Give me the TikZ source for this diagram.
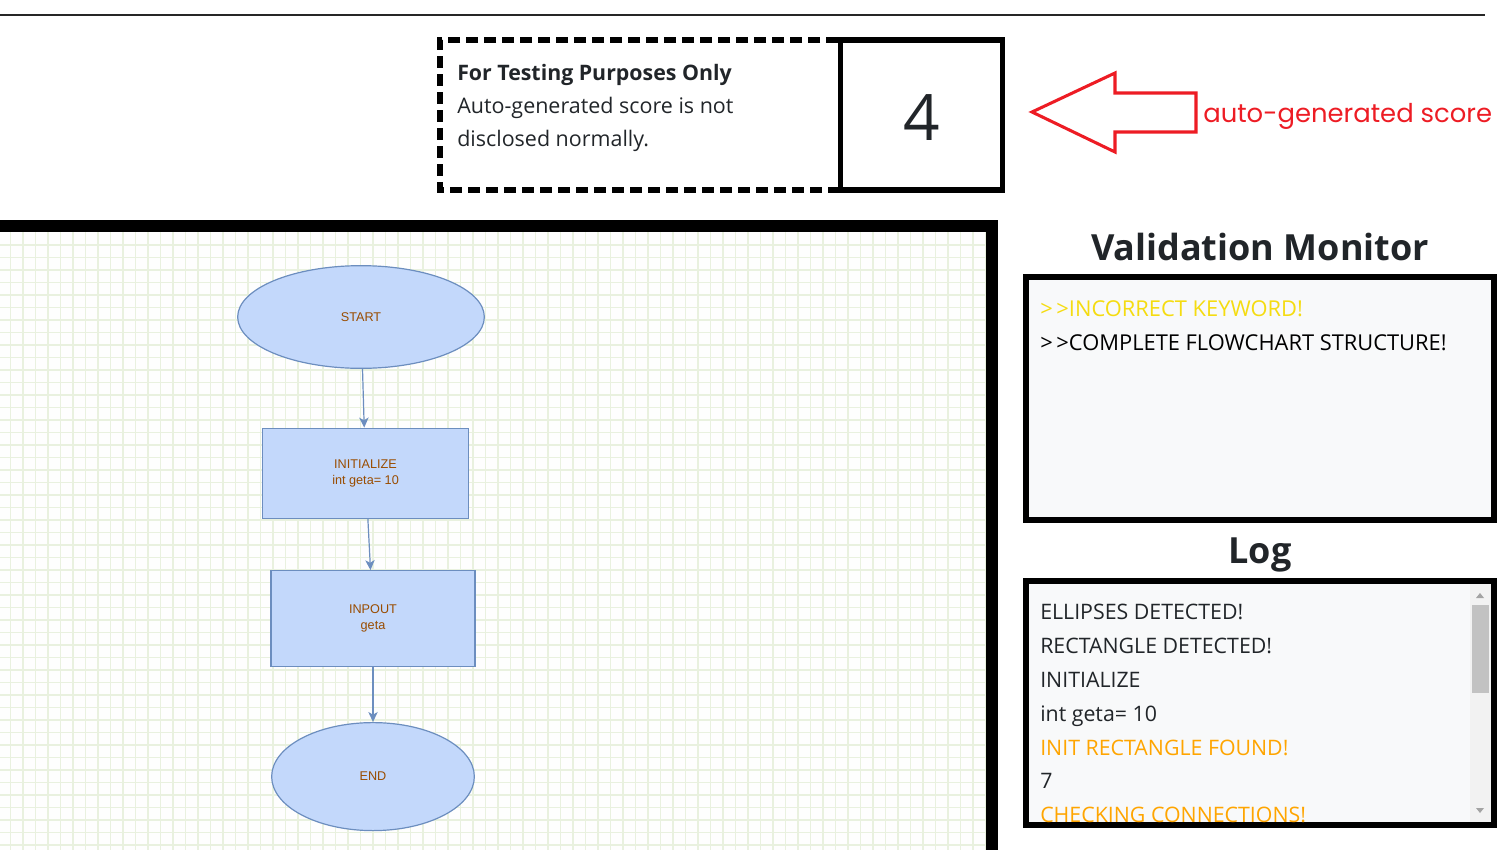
\documentclass[tikz,border=0pt]{standalone}
\usepackage{fontspec}
\setmainfont{Open Sans}
\newfontfamily\flowfont{Liberation Sans}
\newfontfamily\notefont{Poppins}
\usetikzlibrary{positioning, arrows.meta, shapes.geometric}
\definecolor{flowfill}{HTML}{C3D8FB}
\definecolor{flowline}{HTML}{6C8EBF}
\definecolor{flowtext}{HTML}{994C00}
\definecolor{gridgreen}{HTML}{E9F1DF}
\definecolor{panelbg}{HTML}{F8F9FA}
\definecolor{titlegray}{HTML}{212529}
\definecolor{warnyellow}{HTML}{F5DC10}
\definecolor{warnorange}{HTML}{FFA500}
\definecolor{notered}{HTML}{ED1C24}
\tikzset{
    terminal/.style={ellipse, draw=flowline, fill=flowfill, line width=0.9pt,
      inner sep=0pt, text=flowtext, font=\flowfont\fontsize{9.5}{12}\selectfont, align=center},
    process/.style={rectangle, draw=flowline, fill=flowfill, line width=0.9pt,
      inner sep=0pt, text=flowtext, font=\flowfont\fontsize{9.5}{12}\selectfont, align=center},
    flow/.style={-{Stealth[length=7.5pt, width=7pt, inset=2pt]}, draw=flowline, line width=0.9pt},
    panel/.style={draw=black, fill=panelbg, line width=4.5pt, inner sep=0pt,
      minimum width=351pt},
    paneltitle/.style={anchor=base, text=titlegray, font=\bfseries\fontsize{27}{32}\selectfont},
    logline/.style={anchor=base west, inner sep=0pt, text=titlegray,
      font=\fontsize{16}{18}\selectfont},
    gridline/.style={draw=gridgreen, line width=0.9pt},
}
\begin{document}
\begin{tikzpicture}[x=0.75pt, y=-0.75pt]
    \useasboundingbox (0,0) rectangle (1512,850);

    % top rule
    \draw[line width=1.1pt, black!85] (0,15) -- (1485,15);

    % score notice
    \draw[line width=4pt, dash pattern=on 9pt off 4.5pt] (838,40) -- (440,40) -- (440,190) -- (838,190);
    \node[draw, line width=4pt, minimum width=121.5pt, minimum height=112.5pt, inner sep=0pt]
      (scorebox) at (921.5,115) {};
    \node[font=\fontsize{48}{50}\selectfont, text=titlegray, inner sep=0pt] (score) at (921.5,118) {4};
    \node[anchor=base west, inner sep=0pt, text=titlegray, font=\bfseries\fontsize{16}{18}\selectfont]
      (notehead) at (457,80) {For Testing Purposes Only};
    \node[anchor=base west, inner sep=0pt, text=titlegray, font=\fontsize{16.1}{18}\selectfont]
      (noteline1) at (457,113) {Auto-generated score is not};
    \node[anchor=base west, inner sep=0pt, text=titlegray, font=\fontsize{16.1}{18}\selectfont]
      (noteline2) at (457,146) {disclosed normally.};

    % pointer to the score
    \draw[notered, line width=2.3pt, line join=miter]
      (1032,112) -- (1115,73) -- (1115,93) -- (1196,93) -- (1196,132)
      -- (1115,132) -- (1115,152) -- cycle;
    \node[anchor=base west, inner sep=0pt, text=notered, font=\notefont\fontsize{19.4}{21}\selectfont]
      (notelabel) at (1203,122) {auto-generated score};

    % canvas
    \fill[white!97!gridgreen] (0,232) rectangle (986,850);
    \begin{scope}
      \clip (0,232) rectangle (986,850);
      \foreach \gx in {10.5,23,...,986} \draw[gridline] (\gx,232) -- (\gx,850);
      \foreach \gy in {245,257.5,...,850} \draw[gridline] (0,\gy) -- (986,\gy);
    \end{scope}
    \fill[black] (0,220) rectangle (998,232);
    \fill[black] (986,220) rectangle (998,850);

    % flowchart
    \node[terminal, minimum width=185pt, minimum height=77pt] (start) at (361,317) {START};
    \node[process, minimum width=154pt, minimum height=67.5pt, below=44pt of start, xshift=3.4pt]
      (init) {INITIALIZE\\int geta= 10};
    \node[process, minimum width=153pt, minimum height=72pt, below=38.5pt of init, xshift=5.6pt]
      (inpout) {INPOUT\\geta};
    \node[terminal, minimum width=152pt, minimum height=81pt, below=41pt of inpout]
      (end) {END};

    \draw[flow] (start) -- (init);
    \draw[flow] (init) -- (inpout);
    \draw[flow] (inpout) -- (end);

    % validation monitor
    \node[paneltitle] (montitle) at (1260,260) {Validation Monitor};
    \node[panel, minimum height=182.25pt] (monitor) at (1260,398.5) {};
    \node[logline, text=warnyellow, font=\fontsize{16.4}{18}\selectfont] (mon1) at (1040,316)
      {>\,>INCORRECT KEYWORD!};
    \node[logline, text=black, font=\fontsize{16.4}{18}\selectfont] (mon2) at (1040,350)
      {>\,>COMPLETE FLOWCHART STRUCTURE!};

    % log
    \node[paneltitle] (logtitle) at (1260,563) {Log};
    \node[panel, minimum height=183pt] (log) at (1260,703) {};
    \begin{scope}
      \clip (1029,584) rectangle (1491,822);
      \node[logline] (log1) at (1040,619) {ELLIPSES DETECTED!};
      \node[logline] (log2) at (1040,653) {RECTANGLE DETECTED!};
      \node[logline] (log3) at (1040,687) {INITIALIZE};
      \node[logline] (log4) at (1040,721) {int geta= 10};
      \node[logline, text=warnorange] (log5) at (1040,755) {INIT RECTANGLE FOUND!};
      \node[logline] (log6) at (1040,788) {7};
      \node[logline, text=warnorange] (log7) at (1040,822) {CHECKING CONNECTIONS!};
      % scrollbar
      \fill[black!5] (1470,584) rectangle (1491,822);
      \fill[black!24] (1472,605) rectangle (1489,693);
      \fill[black!36] (1476,598) -- (1484,598) -- (1480,593) -- cycle;
      \fill[black!36] (1476,808) -- (1484,808) -- (1480,813) -- cycle;
    \end{scope}
\end{tikzpicture}
\end{document}
